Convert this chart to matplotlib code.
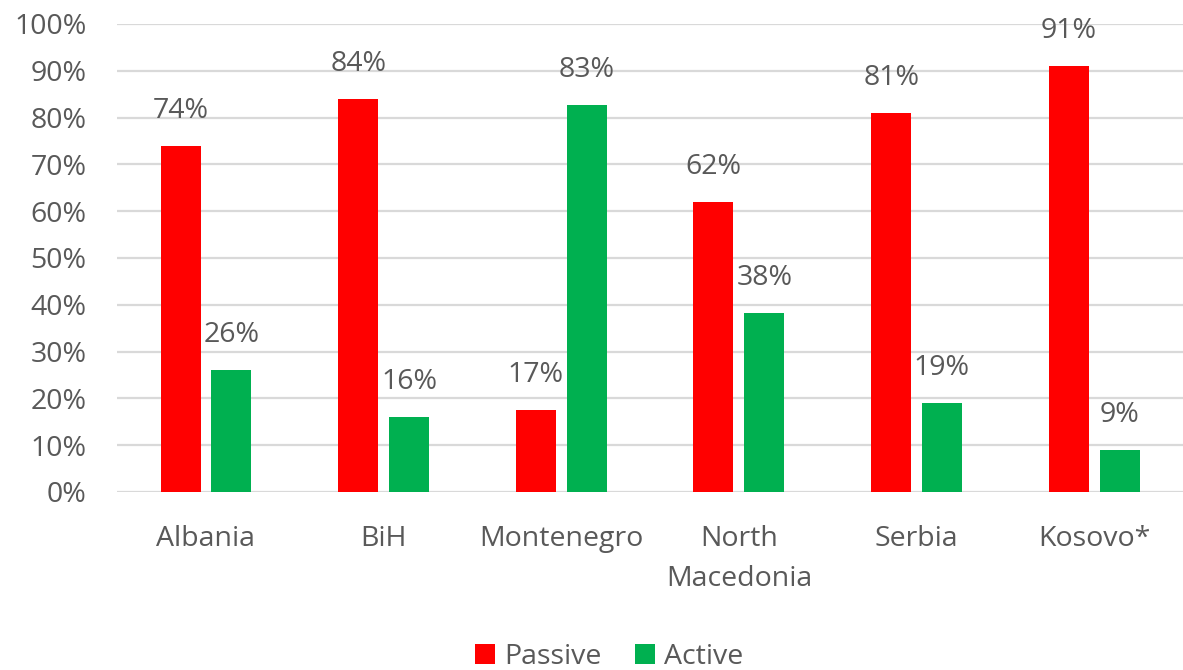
import numpy as np
import matplotlib
matplotlib.use('Agg')
from matplotlib import pyplot as plt

countries = ['Albania', 'BiH', 'Montenegro', 'North\nMacedonia', 'Serbia', 'Kosovo*']
passive = [74, 84, 17.5, 62, 81, 91]
active = [26, 16, 82.7, 38.3, 19, 9]
passive_lbl = ['74%', '84%', '17%', '62%', '81%', '91%']
active_lbl = ['26%', '16%', '83%', '38%', '19%', '9%']
yticks = [0, 10, 20, 30, 40, 50, 60, 70, 80, 90, 100]

plt.rcParams['font.family'] = ['Open Sans', 'DejaVu Sans']
grey = '#595959'
fs = 20.5

fig = plt.figure(figsize=(11.83, 6.70), dpi=100)
ax = fig.add_axes([0.099, 0.2657, 0.901, 0.6985])

x = np.arange(len(countries))
w = 0.225
b1 = ax.bar(x - 0.143, passive, w, color='#FF0000', label='Passive', zorder=3)
b2 = ax.bar(x + 0.143, active, w, color='#00B050', label='Active', zorder=3)

for bars, lbls in ((b1, passive_lbl), (b2, active_lbl)):
    for r, t in zip(bars, lbls):
        ax.annotate(t, (r.get_x() + r.get_width() / 2, r.get_height()),
                    xytext=(0, 15), textcoords='offset points',
                    ha='center', va='bottom', fontsize=fs, color=grey)

ax.set_xlim(-0.5, len(countries) - 0.5)
ax.set_ylim(0, 100)
ax.set_yticks(yticks)
ax.set_yticklabels([f'{v}%' for v in yticks])
ax.set_xticks(x)
ax.set_xticklabels(countries, linespacing=1.55)
ax.tick_params(axis='y', length=0, pad=22, labelsize=fs, labelcolor=grey)
ax.tick_params(axis='x', length=0, pad=24, labelsize=fs, labelcolor=grey)
ax.grid(axis='y', color='#d9d9d9', linewidth=1.6, zorder=0)
for s in ax.spines.values():
    s.set_visible(False)

fig.legend(handles=[b1, b2], loc='center', bbox_to_anchor=(0.515, 0.02),
           ncol=2, frameon=False, fontsize=fs, labelcolor=grey,
           handlelength=0.7, handleheight=0.7, handletextpad=0.3,
           columnspacing=1.2)

fig.savefig('out.png', dpi=100)
